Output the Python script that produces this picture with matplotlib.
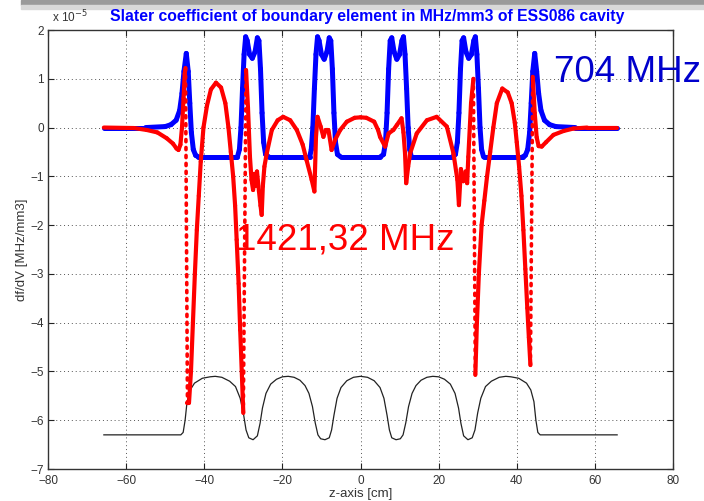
import matplotlib
matplotlib.use("Agg")
import matplotlib.pyplot as plt
from matplotlib.patches import Rectangle

# --- Data (values in units of 1e-5 MHz/mm3) ---
# cavity profile (scaled outline drawn under the curves)
prof_z = [-65.7, -46.0, -45.4, -44.9, -44.4, -43.6, -42.5, -40.5, -38.5, -37.2, -35.5, -33.5,
          -32.0, -30.8, -30.0, -29.3, -28.6, -27.5, -26.4, -25.7, -25.1, -24.2, -23.0, -21.5,
          -20.0, -18.5, -17.0, -15.5, -14.2, -13.2, -12.3, -11.6, -10.9, -10.2, -9.1, -8.0,
          -7.4, -6.8, -6.0, -5.0, -3.5, -1.8, 0.0, 1.8, 3.5, 5.0, 6.0, 6.8, 7.4, 8.0, 9.1,
          10.2, 10.9, 11.6, 12.3, 13.2, 14.2, 15.5, 17.0, 18.5, 20.0, 21.5, 23.0, 24.2, 25.1,
          25.7, 26.4, 27.5, 28.6, 29.3, 30.0, 30.8, 32.0, 33.5, 35.5, 37.2, 38.5, 40.5, 42.5,
          43.6, 44.4, 44.9, 45.4, 46.0, 65.7]
prof_v = [-6.30, -6.30, -6.25, -6.00, -5.62, -5.38, -5.24, -5.14, -5.11, -5.10, -5.12, -5.20,
          -5.31, -5.55, -5.85, -6.20, -6.36, -6.40, -6.32, -6.06, -5.75, -5.45, -5.26, -5.16,
          -5.11, -5.10, -5.12, -5.18, -5.29, -5.45, -5.72, -6.05, -6.30, -6.38, -6.40, -6.36,
          -6.20, -5.90, -5.55, -5.33, -5.19, -5.12, -5.10, -5.12, -5.19, -5.33, -5.55, -5.90,
          -6.20, -6.36, -6.40, -6.38, -6.30, -6.05, -5.72, -5.45, -5.29, -5.18, -5.12, -5.10,
          -5.11, -5.16, -5.26, -5.45, -5.75, -6.06, -6.32, -6.40, -6.36, -6.20, -5.85, -5.55,
          -5.31, -5.20, -5.12, -5.10, -5.11, -5.14, -5.24, -5.38, -5.62, -6.00, -6.25, -6.30,
          -6.30]

# 704 MHz mode
blue_z = [-65.7, -55.0, -50.0, -48.5, -47.2, -46.3, -45.7, -45.2, -44.6, -44.1, -43.7, -43.3,
          -42.8, -42.2, -41.5, -31.5, -31.0, -30.6, -30.2, -29.8, -29.4, -29.0, -28.4, -27.7,
          -27.0, -26.4, -26.0, -25.6, -25.2, -24.8, -24.3, -23.5, -13.0, -12.6, -12.2, -11.8,
          -11.4, -11.0, -10.6, -10.0, -9.3, -8.6, -8.0, -7.6, -7.2, -6.8, -6.4, -5.9, -5.1,
          5.1, 5.9, 6.4, 6.8, 7.2, 7.6, 8.0, 8.6, 9.3, 10.0, 10.6, 11.0, 11.4, 11.8, 12.2,
          12.6, 13.0, 23.5, 24.3, 24.8, 25.2, 25.6, 26.0, 26.4, 27.0, 27.7, 28.4, 29.0, 29.4,
          29.8, 30.2, 30.6, 31.0, 31.5, 41.5, 42.2, 42.8, 43.3, 43.7, 44.1, 44.6, 45.1, 45.6,
          46.2, 47.1, 48.4, 50.0, 55.0, 65.7]
blue_v = [0.00, 0.00, 0.02, 0.06, 0.15, 0.35, 0.70, 1.15, 1.52, 1.15, 0.50, -0.10,
          -0.45, -0.57, -0.60, -0.60, -0.45, 0.00, 0.80, 1.50, 1.86, 1.78, 1.50, 1.42,
          1.55, 1.84, 1.78, 1.20, 0.30, -0.30, -0.55, -0.60, -0.60, -0.45, 0.00, 0.80,
          1.50, 1.86, 1.78, 1.50, 1.40, 1.55, 1.84, 1.78, 1.20, 0.30, -0.30, -0.55, -0.60,
          -0.60, -0.55, -0.30, 0.30, 1.20, 1.78, 1.84, 1.55, 1.40, 1.50, 1.78, 1.86, 1.50,
          0.80, 0.00, -0.45, -0.60, -0.60, -0.55, -0.30, 0.30, 1.20, 1.78, 1.84, 1.55, 1.42,
          1.50, 1.78, 1.86, 1.50, 0.80, 0.00, -0.45, -0.60, -0.60, -0.57, -0.45, -0.10,
          0.50, 1.15, 1.52, 1.15, 0.70, 0.35, 0.15, 0.06, 0.02, 0.00, 0.00]

# 1421,32 MHz mode
red_z = [-65.7, -58.0, -54.7, -52.0, -49.6, -48.0, -47.1, -46.6, -46.1, -45.7, -45.3, -45.0,
         -44.8, -44.3, -43.9, -43.4, -42.9, -42.4, -41.9, -41.4, -40.9, -40.2, -39.3, -38.3,
         -37.0, -35.7, -34.6, -33.8, -33.2, -32.6, -32.1, -31.7, -31.2, -30.8, -30.4, -30.0,
         -29.3, -28.8, -28.3, -27.9, -27.5,
         -27.2, -26.9, -26.5, -26.0, -25.6, -25.3, -25.0, -24.6, -24.0, -22.7, -21.2, -19.8,
         -18.0, -16.3, -14.8, -13.8, -12.5, -11.8, -11.4, -11.0, -10.2, -9.5, -8.9, -8.2,
         -7.4, -6.5, -5.2, -3.5, -1.5, 0.0, 1.5, 3.5, 4.5, 5.0, 6.3, 7.2, 8.4, 9.3, 10.5,
         11.0, 11.4, 11.7, 12.2, 12.7, 14.4, 17.0, 19.5, 22.1, 23.8, 24.8, 25.2, 25.7, 26.3,
         26.9, 27.3, 27.6, 28.3, 28.9, 29.4, 29.8, 30.3, 31.0, 31.7, 32.4, 33.2, 34.0, 34.9,
         36.3, 37.7, 38.7, 39.5, 40.0, 40.6, 41.2, 41.7, 42.2, 42.7, 43.1, 43.5,
         44.1, 44.6, 45.1, 45.6, 46.4, 47.5, 49.4, 52.0, 54.5, 58.0, 65.7]
red_v = [0.00, -0.01, -0.05, -0.10, -0.22, -0.33, -0.43, -0.46, -0.35, 0.00, 0.60, 1.10,
         1.22, -5.64, -5.64, -5.00, -4.00, -3.00, -2.10, -1.40, -0.70, 0.00, 0.45, 0.78,
         0.92, 0.82, 0.50, 0.00, -0.50, -1.00, -1.60, -2.30, -3.20, -4.15, -5.00, -5.85,
         1.18, 0.40, -0.60, -1.07, -1.28,
         -0.95, -1.20, -0.90, -1.30, -1.60, -1.79, -1.20, -0.80, -0.53, -0.05, 0.15, 0.22,
         0.15, -0.05, -0.35, -0.67, -1.07, -1.31, -0.20, 0.22, 0.02, -0.19, -0.05, -0.05,
         -0.46, -0.25, -0.05, 0.12, 0.20, 0.21, 0.20, 0.12, -0.05, -0.19, -0.39, -0.12, -0.05,
         0.05, 0.19, -0.10, -0.53, -1.14, -0.80, -0.53, -0.12, 0.15, 0.22, 0.02, -0.53, -1.07,
         -1.59, -0.85, -1.10, -0.90, -1.14, -0.60, 0.50, 1.00, -5.07, -4.00, -3.00, -2.00,
         -1.50, -1.00, -0.50, 0.00, 0.50, 0.80, 0.72, 0.50, 0.10, -0.30, -0.80, -1.40,
         -2.10, -2.90, -3.70, -4.30, -4.87,
         1.04, 0.30, -0.20, -0.38, -0.39, -0.30, -0.15, -0.07, -0.02, 0.00, 0.00]

xticks = [-80, -60, -40, -20, 0, 20, 40, 60, 80]
yticks = [-7, -6, -5, -4, -3, -2, -1, 0, 1, 2]

plt.rcParams['font.family'] = ['Liberation Sans', 'DejaVu Sans']

fig = plt.figure(figsize=(7.04, 5.01), dpi=100)
ax = fig.add_axes([48 / 704, 32 / 501, 625 / 704, 439 / 501])

# slide shadow strip at the very top
fig.patches.append(Rectangle((0.03, 1 - 5 / 501), 0.97, 5 / 501, transform=fig.transFigure,
                             color='#9a9a9a', zorder=0))
fig.patches.append(Rectangle((0.03, 1 - 9 / 501), 0.97, 4 / 501, transform=fig.transFigure,
                             color='#d8d8d8', zorder=0))

ax.plot(prof_z, prof_v, color='#222222', lw=0.9, zorder=2)


def draw_series(z, v, color, lw):
    # steep jumps are drawn dotted, like the sparse markers in the original
    for i in range(len(z) - 1):
        dz = abs(z[i + 1] - z[i])
        dv = abs(v[i + 1] - v[i])
        steep = dv > 3 and dv / max(dz, 1e-6) > 5
        if steep:
            ax.plot(z[i:i + 2], v[i:i + 2], color=color, lw=2.6,
                    linestyle=(0, (0.6, 1.6)), dash_capstyle='round', zorder=3)
        else:
            ax.plot(z[i:i + 2], v[i:i + 2], color=color, lw=lw,
                    solid_capstyle='round', zorder=3)


draw_series(blue_z, blue_v, '#0000ff', 3.6)
draw_series(red_z, red_v, '#ff0000', 3.0)

ax.set_xlim(-80, 80)
ax.set_ylim(-7, 2)
ax.set_xticks(xticks)
ax.set_yticks(yticks)
ax.grid(True, color='#555555', linestyle=(0, (1, 3)), lw=0.7)
ax.tick_params(direction='in', length=4, top=True, right=True, labelsize=8.5,
               labelcolor='#333333', color='#222222')
ax.tick_params(axis='x', pad=4)
ax.tick_params(axis='y', pad=3)
for sp in ax.spines.values():
    sp.set_color('#333333')
    sp.set_linewidth(1.0)

ax.set_xlabel('z-axis [cm]', fontsize=9.5, color='#333333', labelpad=1)
ax.set_ylabel('df/dV [MHz/mm3]', fontsize=9.5, color='#333333', labelpad=2)
fig.text(52 / 704, 1 - 17 / 501, r'x 10$^{-5}$', fontsize=8.5, color='#333333',
         ha='left', va='center')
fig.text(367 / 704, 1 - 16 / 501,
         'Slater coefficient of boundary element in MHz/mm3 of ESS086 cavity',
         fontsize=11.3, fontweight='bold', color='#0000ff', ha='center', va='center')

ax.text(49.5, 0.93, '704 MHz', fontsize=26.5, color='#0000cc', ha='left',
        va='baseline', clip_on=False, zorder=5)
ax.text(-31.9, -2.51, '1421,32 MHz', fontsize=26.5, color='#ff0000', ha='left',
        va='baseline', clip_on=False, zorder=5)

fig.savefig('out.png', dpi=100)
